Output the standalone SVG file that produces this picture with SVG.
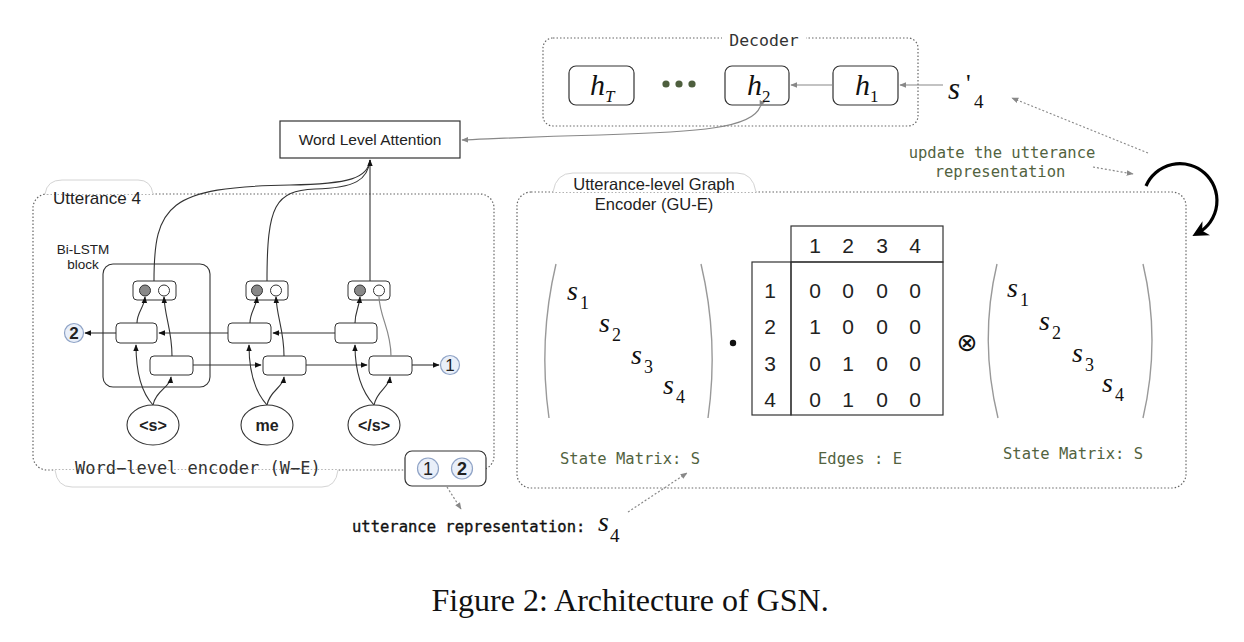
<svg xmlns="http://www.w3.org/2000/svg" width="1244" height="642" viewBox="0 0 1244 642">
<defs>
<marker id="ah" viewBox="0 0 10 10" refX="9" refY="5" markerWidth="7" markerHeight="7" orient="auto" markerUnits="userSpaceOnUse"><path d="M0,1 L10,5 L0,9 Z" fill="#111"/></marker>
<marker id="ahg" viewBox="0 0 10 10" refX="9" refY="5" markerWidth="7" markerHeight="7" orient="auto" markerUnits="userSpaceOnUse"><path d="M0,1 L10,5 L0,9 Z" fill="#888"/></marker>
<marker id="ahb" viewBox="0 0 10 10" refX="6" refY="5" markerWidth="16" markerHeight="16" orient="auto" markerUnits="userSpaceOnUse"><path d="M0,0 L10,5 L0,10 L3,5 Z" fill="#000"/></marker>
</defs>
<style>
.dot{fill:none;stroke:#666;stroke-width:1.2;stroke-dasharray:1.5 2}
.tab{fill:#fff;stroke:#d4d4d4;stroke-width:1}
.box{fill:#fff;stroke:#333;stroke-width:1.2}
.cell{fill:#fff;stroke:#333;stroke-width:1}
.ln{fill:none;stroke:#333;stroke-width:1.1}
.lg{fill:none;stroke:#888;stroke-width:1.2}
.dl{fill:none;stroke:#888;stroke-width:1.2;stroke-dasharray:2 2}
.sans{font-family:"Liberation Sans",Arial,sans-serif;fill:#222}
.mono{font-family:"DejaVu Sans Mono","Liberation Mono",monospace}
.green{fill:#52633f}
.var{font-family:"Liberation Serif","Times New Roman",serif;font-style:italic;fill:#111}
.sub{font-family:"Liberation Serif","Times New Roman",serif;fill:#111}
.num{font-family:"Liberation Sans",Arial,sans-serif;font-size:21px;fill:#222;text-anchor:middle}
.cnum{fill:#e9eff9;stroke:#8fa3c6;stroke-width:1.2}
.paren{fill:none;stroke:#999;stroke-width:1.4}
</style>
<rect width="1244" height="642" fill="#fff"/>

<!-- Decoder -->
<g id="decoder">
<rect class="dot" x="543" y="38" width="375" height="88" rx="10"/>
<rect x="722" y="30" width="84" height="16" fill="#fff"/>
<text class="mono" x="764" y="46" font-size="16.5" text-anchor="middle" fill="#333">Decoder</text>
</g>
<g id="hT"><rect class="box" x="569" y="66" width="65" height="39" rx="7"/>
<text class="var" x="590" y="95" font-size="30">h</text><text class="var" x="605" y="102" font-size="17">T</text></g>
<g id="dots"><circle cx="666" cy="84" r="3.6" fill="#4e5f3e"/><circle cx="679" cy="84" r="3.6" fill="#4e5f3e"/><circle cx="692" cy="84" r="3.6" fill="#4e5f3e"/></g>
<g id="h2"><rect class="box" x="725" y="66" width="64" height="39" rx="7"/>
<text class="var" x="747" y="95" font-size="30">h</text><text class="sub" x="762" y="102" font-size="17">2</text></g>
<g id="h1"><rect class="box" x="833" y="66" width="65" height="39" rx="7"/>
<text class="var" x="855" y="95" font-size="30">h</text><text class="sub" x="870" y="102" font-size="17">1</text></g>
<g id="s4prime"><text class="var" x="948" y="99" font-size="31">s</text><text class="sub" x="966" y="92" font-size="26">'</text><text class="sub" x="974" y="108" font-size="19">4</text></g>

<!-- Word level attention -->
<g id="attention"><rect class="box" x="280" y="121" width="180" height="37"/>
<text class="sans" x="370" y="145" font-size="15.5" text-anchor="middle">Word Level Attention</text></g>

<!-- Utterance 4 container -->
<g id="utterance4">
<rect class="dot" x="33" y="194" width="461" height="276" rx="14"/>
<path class="tab" d="M45,194 Q47,180 62,180 L138,180 Q151,180 153,194"/>
<text class="sans" x="53" y="204" font-size="17">Utterance 4</text>
<path class="tab" d="M55,470 Q57,487 72,487 L322,487 Q336,487 338,470"/>
<text class="mono" x="75" y="474" font-size="17" fill="#333">Word−level encoder (W−E)</text>
</g>
<g id="bilstm-block">
<rect fill="none" stroke="#333" stroke-width="1.1" x="103" y="264" width="107" height="123" rx="10"/>
<text class="sans" x="83" y="254" font-size="13.5" text-anchor="middle">Bi-LSTM</text>
<text class="sans" x="83" y="269" font-size="13.5" text-anchor="middle">block</text>
</g>
<g id="out1"><rect class="cell" x="133" y="281" width="43" height="19" rx="4"/><circle cx="145" cy="290.5" r="5.5" fill="#888" stroke="#333"/><circle cx="164" cy="290.5" r="5.5" fill="#fff" stroke="#333"/></g>
<g id="out2"><rect class="cell" x="246" y="281" width="42" height="19" rx="4"/><circle cx="257" cy="290.5" r="5.5" fill="#888" stroke="#333"/><circle cx="276" cy="290.5" r="5.5" fill="#fff" stroke="#333"/></g>
<g id="out3"><rect class="cell" x="348" y="281" width="42" height="19" rx="4"/><circle cx="360" cy="290.5" r="5.5" fill="#888" stroke="#333"/><circle cx="379" cy="290.5" r="5.5" fill="#fff" stroke="#333"/></g>
<g id="bw1"><rect class="cell" x="116" y="323" width="41" height="20" rx="4"/></g>
<g id="bw2"><rect class="cell" x="228" y="323" width="43" height="20" rx="4"/></g>
<g id="bw3"><rect class="cell" x="335" y="323" width="42" height="20" rx="4"/></g>
<g id="fw1"><rect class="cell" x="150" y="356" width="43" height="19" rx="4"/></g>
<g id="fw2"><rect class="cell" x="263" y="356" width="43" height="19" rx="4"/></g>
<g id="fw3"><rect class="cell" x="369" y="356" width="43" height="19" rx="4"/></g>
<g id="c2"><circle class="cnum" cx="74" cy="333" r="9.5"/><text class="sans" x="74" y="339" font-size="17" font-weight="bold" text-anchor="middle" fill="#333">2</text></g>
<g id="c1"><circle class="cnum" cx="450" cy="365" r="9.5"/><text class="sans" x="450" y="371" font-size="17" text-anchor="middle" fill="#333">1</text></g>
<g id="w-s"><ellipse cx="153" cy="425" rx="26" ry="20" fill="#fff" stroke="#333" stroke-width="1.1"/><text class="sans" x="153" y="431" font-size="16" font-weight="bold" text-anchor="middle" fill="#333">&lt;s&gt;</text></g>
<g id="w-me"><ellipse cx="267" cy="425" rx="26" ry="20" fill="#fff" stroke="#333" stroke-width="1.1"/><text class="sans" x="267" y="431" font-size="16" font-weight="bold" text-anchor="middle" fill="#333">me</text></g>
<g id="w-es"><ellipse cx="374" cy="425" rx="26" ry="20" fill="#fff" stroke="#333" stroke-width="1.1"/><text class="sans" x="374" y="431" font-size="16" font-weight="bold" text-anchor="middle" fill="#333">&lt;/s&gt;</text></g>
<g id="rep12"><rect fill="#fff" stroke="#333" stroke-width="1.2" x="405" y="451" width="81" height="35" rx="7"/>
<circle class="cnum" cx="428" cy="468.5" r="10.5"/><text class="sans" x="428" y="475" font-size="18" text-anchor="middle" fill="#333">1</text>
<circle class="cnum" cx="462" cy="468.5" r="10.5"/><text class="sans" x="462" y="475" font-size="18" font-weight="bold" text-anchor="middle" fill="#333">2</text></g>
<g id="rep-label"><text class="mono" x="352" y="532" font-size="15.5" fill="#111" stroke="#111" stroke-width="0.35">utterance representation:</text>
<text class="var" x="598" y="531" font-size="28">s</text><text class="sub" x="610" y="542" font-size="19">4</text></g>

<!-- GU-E -->
<g id="gue">
<rect class="dot" x="517" y="192" width="669" height="296" rx="14"/>
<path class="tab" d="M553,192 Q556,173 573,173 L737,173 Q753,173 756,192"/>
<text class="sans" x="654" y="190" font-size="16.5" text-anchor="middle">Utterance-level Graph</text>
<text class="sans" x="654" y="210" font-size="16.5" text-anchor="middle">Encoder (GU-E)</text>
</g>
<g id="S-left">
<path class="paren" d="M556,264 Q538,340 549,418"/>
<path class="paren" d="M701,264 Q719,340 708,418"/>
<text class="var" x="567" y="300" font-size="28">s</text><text class="sub" x="580" y="309" font-size="18">1</text>
<text class="var" x="599" y="332" font-size="28">s</text><text class="sub" x="612" y="341" font-size="18">2</text>
<text class="var" x="631" y="364" font-size="28">s</text><text class="sub" x="644" y="373" font-size="18">3</text>
<text class="var" x="663" y="394" font-size="28">s</text><text class="sub" x="676" y="403" font-size="18">4</text>
<text class="mono green" x="560" y="464" font-size="15.5">State Matrix: S</text>
</g>
<g id="dotop"><circle cx="733" cy="343" r="3.2" fill="#111"/></g>
<g id="E">
<rect fill="none" stroke="#333" stroke-width="1.2" x="791" y="226" width="152" height="36"/>
<rect fill="none" stroke="#333" stroke-width="1.2" x="752" y="262" width="39" height="153"/>
<rect fill="none" stroke="#333" stroke-width="1.2" x="791" y="262" width="152" height="153"/>
<text class="num" x="815" y="253">1</text><text class="num" x="848" y="253">2</text><text class="num" x="882" y="253">3</text><text class="num" x="915" y="253">4</text>
<text class="num" x="770" y="298">1</text><text class="num" x="770" y="334">2</text><text class="num" x="770" y="371">3</text><text class="num" x="770" y="407">4</text>
<text class="num" x="815" y="298">0</text><text class="num" x="848" y="298">0</text><text class="num" x="882" y="298">0</text><text class="num" x="915" y="298">0</text>
<text class="num" x="815" y="334">1</text><text class="num" x="848" y="334">0</text><text class="num" x="882" y="334">0</text><text class="num" x="915" y="334">0</text>
<text class="num" x="815" y="371">0</text><text class="num" x="848" y="371">1</text><text class="num" x="882" y="371">0</text><text class="num" x="915" y="371">0</text>
<text class="num" x="815" y="407">0</text><text class="num" x="848" y="407">1</text><text class="num" x="882" y="407">0</text><text class="num" x="915" y="407">0</text>
<text class="mono green" x="818" y="464" font-size="15.5">Edges : E</text>
</g>
<g id="otimes"><text x="967" y="351" font-size="25" text-anchor="middle" font-family="DejaVu Sans,sans-serif" fill="#111">⊗</text></g>
<g id="S-right">
<path class="paren" d="M997,264 Q979,340 998,418"/>
<path class="paren" d="M1143,264 Q1161,340 1143,418"/>
<text class="var" x="1007" y="297" font-size="28">s</text><text class="sub" x="1020" y="306" font-size="18">1</text>
<text class="var" x="1039" y="330" font-size="28">s</text><text class="sub" x="1052" y="339" font-size="18">2</text>
<text class="var" x="1072" y="362" font-size="28">s</text><text class="sub" x="1085" y="371" font-size="18">3</text>
<text class="var" x="1102" y="392" font-size="28">s</text><text class="sub" x="1115" y="401" font-size="18">4</text>
<text class="mono green" x="1003" y="459" font-size="15.5">State Matrix: S</text>
</g>
<g id="update-label">
<text class="mono green" x="1002" y="158" font-size="15.5" text-anchor="middle">update the utterance</text>
<text class="mono green" x="1000" y="177" font-size="15.5" text-anchor="middle">representation</text>
</g>
<g id="caption"><text x="630" y="611" font-size="32" text-anchor="middle" font-family="Liberation Serif,Times New Roman,serif" fill="#111">Figure 2: Architecture of GSN.</text></g>

<!-- connectors -->
<g id="connectors">
<path class="lg" d="M943,85 L900,85" marker-end="url(#ahg)"/>
<path class="lg" d="M833,85 L791,85" marker-end="url(#ahg)"/>
<path class="lg" d="M760,107 C752,128 700,132 600,135 C520,137 490,139 462,140" marker-start="url(#ahg)" marker-end="url(#ahg)"/>
<path class="ln" d="M154,281 C154,205 168,187 290,185 C350,184 368,178 370,160" />
<path class="ln" d="M267,281 C267,205 275,191 315,189 C355,188 368,180 370,160"/>
<path class="ln" d="M370,281 L370,160" marker-end="url(#ah)"/>
<path class="ln" d="M335,333 L273,333" marker-end="url(#ah)"/>
<path class="ln" d="M228,333 L159,333" marker-end="url(#ah)"/>
<path class="ln" d="M116,333 L85,333" marker-end="url(#ah)"/>
<path class="ln" d="M193,365 L261,365" marker-end="url(#ah)"/>
<path class="ln" d="M306,365 L367,365" marker-end="url(#ah)"/>
<path class="ln" d="M412,365 L439,365" marker-end="url(#ah)"/>
<path class="ln" d="M153,405 C141,392 136,372 136,345" marker-end="url(#ah)"/>
<path class="ln" d="M153,405 C156,390 170,388 171,377" marker-end="url(#ah)"/>
<path class="ln" d="M267,405 C255,392 249,372 249,345" marker-end="url(#ah)"/>
<path class="ln" d="M267,405 C270,390 283,388 284,377" marker-end="url(#ah)"/>
<path class="ln" d="M374,405 C362,392 355,372 355,345" marker-end="url(#ah)"/>
<path class="ln" d="M374,405 C377,390 389,388 390,377" marker-end="url(#ah)"/>
<path class="ln" d="M137,323 C137,312 144,308 145,297" marker-end="url(#ah)"/>
<path class="ln" d="M172,356 C172,330 165,318 164,297" marker-end="url(#ah)"/>
<path class="ln" d="M250,323 C250,312 256,308 257,297" marker-end="url(#ah)"/>
<path class="ln" d="M284,356 C284,330 277,318 276,297" marker-end="url(#ah)"/>
<path class="ln" d="M355,323 C355,312 359,308 360,297" marker-end="url(#ah)"/>
<path class="lg" d="M391,356 C391,330 380,318 379,297"/>
<path class="dl" d="M447,487 L461,509" marker-end="url(#ahg)"/>
<path class="dl" d="M628,512 L687,473" marker-end="url(#ahg)"/>
<path class="dl" d="M1148,153 L1012,98" marker-end="url(#ahg)"/>
<path class="dl" d="M1093,167 L1133,174" marker-end="url(#ahg)"/>
<path d="M1146,186 A37,37 0 1 1 1198,233" fill="none" stroke="#000" stroke-width="3.2" marker-end="url(#ahb)"/>
</g>
</svg>
